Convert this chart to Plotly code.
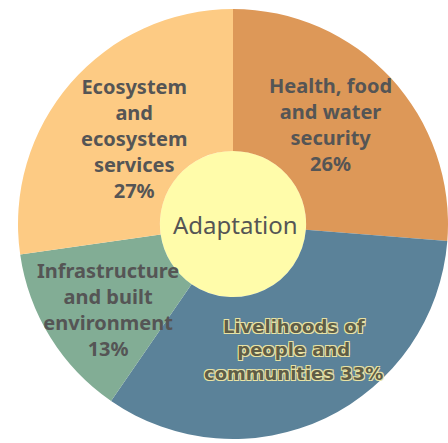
import plotly.graph_objects as go

# ---- data ----
labels = ["Health, food and water security", "Livelihoods of people and communities",
          "Infrastructure and built environment", "Ecosystem and ecosystem services"]
values = [26, 33, 13, 27]
label_lines = [["Health, food", "and water", "security"],
               ["Livelihoods of", "people and", "communities"],
               ["Infrastructure", "and built", "environment"],
               ["Ecosystem", "and", "ecosystem", "services"]]
center_label = "Adaptation"

colors = ["#DD9858", "#5B8299", "#82AD95", "#FDCB84"]

W, H = 448, 443
M = dict(l=18, r=0, t=9, b=4)
pw, ph = W - M["l"] - M["r"], H - M["t"] - M["b"]
hole = 0.34
cx, cy = M["l"] + pw / 2, M["t"] + ph / 2
R = min(pw, ph) / 2
rh = R * hole


def px(x):  # figure pixel -> paper
    return (x - M["l"]) / pw


def py(y):
    return 1 - (y - M["t"]) / ph


fig = go.Figure(go.Pie(
    labels=labels, values=values, sort=False, direction="clockwise", rotation=0,
    hole=hole, textinfo="none", hoverinfo="none",
    marker=dict(colors=colors, line=dict(width=0)), showlegend=False,
))

fig.add_shape(type="circle", xref="paper", yref="paper", layer="below",
              x0=px(cx - rh), x1=px(cx + rh), y0=py(cy + rh), y1=py(cy - rh),
              fillcolor="#FFFCAA", line=dict(width=0))

font_main = dict(family="Noto Sans", size=20, color="#555555", weight="bold")

# text positions (pixel centers)
pos = [(330, 124), (293, 350), (108, 309), (134, 138)]
for i, (lines, v) in enumerate(zip(label_lines, values)):
    if i == 1:
        txt = "<br>".join(lines[:-1] + [f"{lines[-1]} {v}%"])
        f = dict(family="Verdana, DejaVu Sans", size=18, color="#5E5D47", weight="bold",
                 shadow="-1px -1px 0 #E8E2A4, 1px -1px 0 #E8E2A4, -1px 1px 0 #E8E2A4, 1px 1px 0 #E8E2A4")
    else:
        txt = "<br>".join(lines + [f"{v}%"])
        f = font_main
    x, y = pos[i]
    fig.add_annotation(x=px(x), y=py(y), xref="paper", yref="paper", text=txt,
                       showarrow=False, font=f, align="center",
                       xanchor="center", yanchor="middle")

fig.add_annotation(x=px(cx + 2), y=py(cy), xref="paper", yref="paper", text=center_label,
                   showarrow=False, font=dict(family="Noto Sans", size=24, color="#555555"),
                   xanchor="center", yanchor="middle")

fig.update_layout(width=W, height=H, margin=M, paper_bgcolor="white",
                  plot_bgcolor="white", hovermode=False)
fig.write_html("out.html", config={"displayModeBar": False},
               post_script="document.body.style.margin='0';document.body.style.overflow='hidden';")
